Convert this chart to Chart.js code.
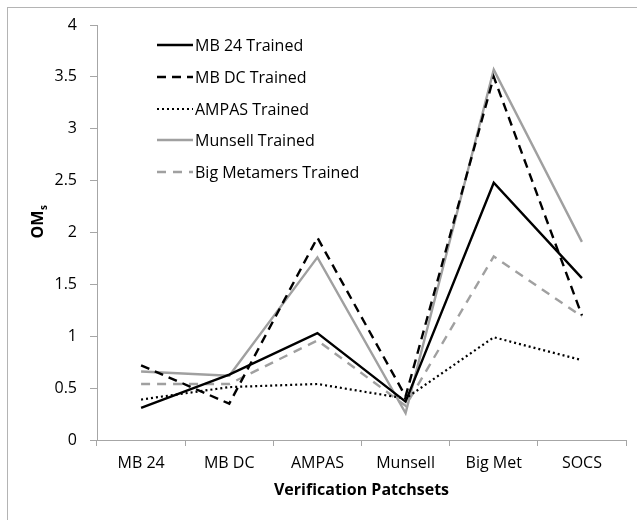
<!DOCTYPE html>
<html>
<head>
<meta charset="utf-8">
<script src="https://cdn.jsdelivr.net/npm/chart.js@4/dist/chart.umd.min.js"></script>
<style>
  html, body { margin: 0; padding: 0; background: #fff; }
  #wrap { position: relative; width: 637px; height: 520px; }
</style>
</head>
<body>
<div id="wrap"><canvas id="c" width="637" height="520"></canvas></div>
<script>
const categories = ['MB 24', 'MB DC', 'AMPAS', 'Munsell', 'Big Met', 'SOCS'];
const mb24Trained = [0.31, 0.63, 1.03, 0.37, 2.48, 1.56];
const mbdcTrained = [0.72, 0.35, 1.95, 0.42, 3.50, 1.20];
const ampasTrained = [0.39, 0.51, 0.54, 0.40, 0.99, 0.77];
const munsellTrained = [0.66, 0.62, 1.76, 0.26, 3.57, 1.91];
const bigMetTrained = [0.54, 0.54, 0.96, 0.33, 1.77, 1.19];
const seriesNames = ['MB 24 Trained', 'MB DC Trained', 'AMPAS Trained', 'Munsell Trained', 'Big Metamers Trained'];
const yTicks = [0, 0.5, 1, 1.5, 2, 2.5, 3, 3.5, 4];
const yTickLabels = ['0', '0.5', '1', '1.5', '2', '2.5', '3', '3.5', '4'];
const xTitle = 'Verification Patchsets';
const yTitleMain = 'OM';
const yTitleSub = 's';

const FONT = '"Open Sans", "DejaVu Sans", sans-serif';
const GRAY = '#a0a0a0';
const AXIS = '#a6a6a6';

const styles = [
  { color: '#000', dash: [] },
  { color: '#000', dash: [9, 6] },
  { color: '#000', dash: [2, 3] },
  { color: GRAY, dash: [] },
  { color: GRAY, dash: [9, 7] }
];
const allData = [mb24Trained, mbdcTrained, ampasTrained, munsellTrained, bigMetTrained];

const datasets = allData.map((d, i) => ({
  label: seriesNames[i],
  data: d,
  borderColor: styles[i].color,
  backgroundColor: styles[i].color,
  borderDash: styles[i].dash,
  borderWidth: i === 2 ? 2.2 : 2.4,
  pointRadius: 0,
  pointHoverRadius: 0,
  tension: 0,
  fill: false
}));

const decor = {
  id: 'decor',
  beforeDraw(chart) {
    const ctx = chart.ctx;
    ctx.save();
    ctx.strokeStyle = '#b4b4b4';
    ctx.lineWidth = 1;
    ctx.strokeRect(7.5, 7.5, 700, 700);
    ctx.restore();
  },
  afterDraw(chart) {
    const ctx = chart.ctx;
    const area = chart.chartArea;
    ctx.save();
    // legend
    const rows = [45, 77, 109, 140, 172];
    chart.data.datasets.forEach((ds, i) => {
      const y = rows[i];
      ctx.beginPath();
      ctx.strokeStyle = ds.borderColor;
      ctx.lineWidth = ds.borderWidth;
      ctx.setLineDash(ds.borderDash || []);
      ctx.moveTo(157, y);
      ctx.lineTo(193, y);
      ctx.stroke();
      ctx.setLineDash([]);
      ctx.fillStyle = '#000';
      ctx.font = '16px ' + FONT;
      ctx.textAlign = 'left';
      ctx.textBaseline = 'middle';
      ctx.fillText(ds.label, 195, y + 1);
    });
    // x title
    ctx.fillStyle = '#000';
    ctx.font = 'bold 16px ' + FONT;
    ctx.textAlign = 'center';
    ctx.textBaseline = 'middle';
    ctx.fillText(xTitle, (area.left + area.right) / 2, 490);
    // y title rotated with subscript
    ctx.translate(38, 222);
    ctx.rotate(-Math.PI / 2);
    ctx.font = 'bold 16px ' + FONT;
    const wMain = ctx.measureText(yTitleMain).width;
    ctx.font = 'bold 10px ' + FONT;
    const wSub = ctx.measureText(yTitleSub).width;
    const total = wMain + wSub;
    ctx.textAlign = 'left';
    ctx.textBaseline = 'middle';
    ctx.font = 'bold 16px ' + FONT;
    ctx.fillText(yTitleMain, -total / 2, 0);
    ctx.font = 'bold 10px ' + FONT;
    ctx.fillText(yTitleSub, -total / 2 + wMain + 0.5, 6);
    ctx.restore();
  }
};

new Chart(document.getElementById('c'), {
  type: 'line',
  data: { labels: categories, datasets },
  options: {
    responsive: false,
    animation: false,
    devicePixelRatio: 1,
    layout: { padding: { left: 0, top: 25, right: 11, bottom: 0 } },
    plugins: { legend: { display: false }, tooltip: { enabled: false } },
    scales: {
      x: {
        type: 'category',
        offset: true,
        grid: { offset: true, drawOnChartArea: false, drawTicks: true, tickLength: 6, color: AXIS, lineWidth: 1 },
        border: { color: AXIS, width: 1 },
        ticks: { color: '#000', font: { family: FONT, size: 16 }, padding: 8, maxRotation: 0, autoSkip: false },
        afterFit(s) { s.height = 80; }
      },
      y: {
        min: 0,
        max: 4,
        afterBuildTicks(s) { s.ticks = yTicks.map(v => ({ value: v })); },
        grid: { drawOnChartArea: false, drawTicks: true, tickLength: 7, color: AXIS, lineWidth: 1 },
        border: { color: AXIS, width: 1 },
        ticks: {
          color: '#000', font: { family: FONT, size: 16 }, padding: 13,
          callback(v) { const i = yTicks.indexOf(v); return i >= 0 ? yTickLabels[i] : ''; }
        },
        afterFit(s) { s.width = 97; }
      }
    }
  },
  plugins: [decor]
});
</script>
</body>
</html>
